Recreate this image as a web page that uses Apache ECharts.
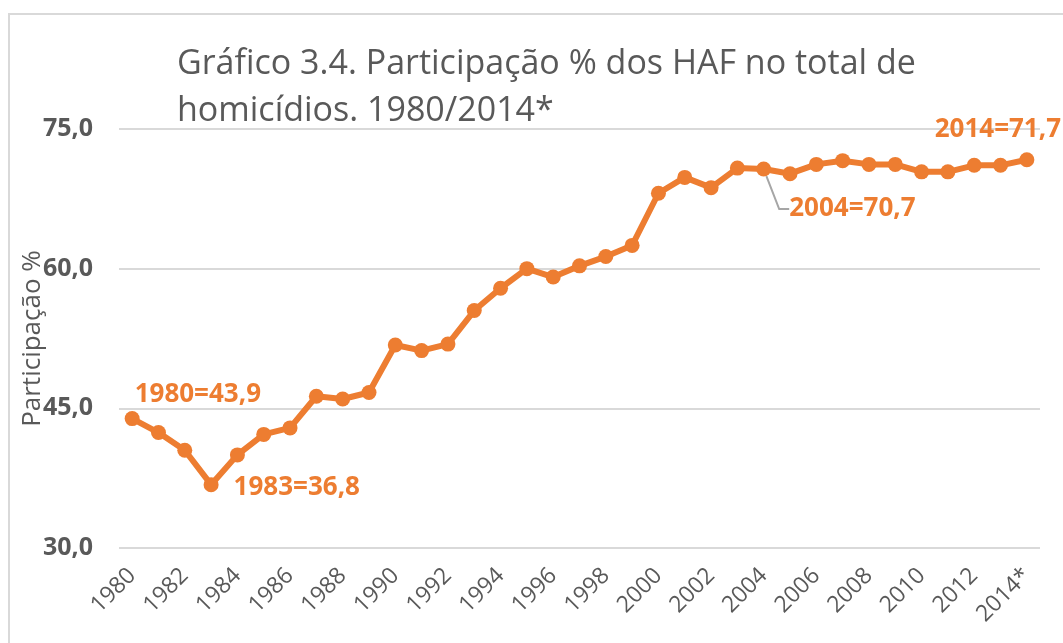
<!DOCTYPE html>
<html>
<head>
<meta charset="utf-8">
<script src="https://cdn.jsdelivr.net/npm/echarts@6/dist/echarts.min.js"></script>
<style>
  html, body { margin: 0; padding: 0; background: #fff; }
  #chart { width: 1063px; height: 643px; }
</style>
</head>
<body>
<div id="chart"></div>
<script>
var years = ['1980','1981','1982','1983','1984','1985','1986','1987','1988','1989',
	'1990','1991','1992','1993','1994','1995','1996','1997','1998','1999',
	'2000','2001','2002','2003','2004','2005','2006','2007','2008','2009',
	'2010','2011','2012','2013','2014*'];
var share = [43.9, 42.4, 40.5, 36.8, 40.0, 42.2, 42.9, 46.3, 46.0, 46.7,
	51.8, 51.2, 51.9, 55.5, 57.9, 60.0, 59.1, 60.3, 61.3, 62.5,
	68.1, 69.8, 68.7, 70.8, 70.7, 70.2, 71.2, 71.6, 71.2, 71.2,
	70.4, 70.4, 71.1, 71.1, 71.7];
// points that get a "year=value" label
var labelled = [0, 3, 24, 34];

var orange = '#ED7D31';
var grey = '#595959';

function fmt(v) {
	return v.toFixed(1).replace('.', ',');
}

var chart = echarts.init(document.getElementById('chart'));

// where each label sits: side of the point, then nudge
var labelPos = { 0: 'right', 3: 'right', 24: 'right', 34: 'top' };
var labelShift = {
	0: { dx: -10, dy: -24 },
	3: { dx: 10, dy: 3 },
	24: { dx: 13, dy: 40 },
	34: { dx: -29, dy: -5 }
};

var seriesData = share.map(function (v, i) {
	var item = { value: v };
	if (labelled.indexOf(i) >= 0) {
		item.label = {
			show: true,
			position: labelPos[i],
			distance: 5,
			color: orange,
			fontWeight: 'bold',
			fontSize: 26,
			fontFamily: 'Open Sans',
			formatter: function (p) {
				return years[p.dataIndex].replace('*', '') + '=' + fmt(p.value);
			}
		};
		item.labelLine = { show: i == 24, length2: 10, lineStyle: { color: '#a6a6a6', width: 2 } };
	}
	return item;
});

chart.setOption({
	animation: false,
	textStyle: { fontFamily: 'Open Sans' },
	graphic: [{
		type: 'rect',
		shape: { x: 9, y: 14, width: 1200, height: 800 },
		style: { fill: 'none', stroke: '#d9d9d9', lineWidth: 2 },
		silent: true,
		z: -10
	}],
	title: {
		text: 'Gráfico 3.4. Participação % dos HAF no total de\nhomicídios. 1980/2014*',
		left: 172,
		top: 36,
		textStyle: {
			fontFamily: 'Open Sans',
			fontWeight: 'normal',
			fontSize: 34,
			lineHeight: 47,
			color: grey
		}
	},
	grid: {
		left: 119,
		right: 23,
		top: 129,
		bottom: 95
	},
	xAxis: {
		type: 'category',
		data: years,
		boundaryGap: true,
		axisLine: { show: false },
		axisTick: { show: false },
		axisLabel: {
			interval: 1,
			rotate: 45,
			color: grey,
			fontSize: 23,
			margin: 24
		}
	},
	yAxis: {
		type: 'value',
		min: 30,
		max: 75,
		interval: 15,
		name: 'Participação %',
		nameLocation: 'middle',
		nameGap: 73,
		nameMoveOverlap: false,
		nameTextStyle: { color: grey, fontSize: 26 },
		axisLine: { show: false },
		axisTick: { show: false },
		axisLabel: {
			color: grey,
			fontWeight: 'bold',
			fontSize: 25,
			margin: 26,
			formatter: function (v) { return fmt(v); }
		},
		splitLine: { lineStyle: { color: '#d9d9d9', width: 2 } }
	},
	series: [{
		type: 'line',
		data: seriesData,
		symbol: 'circle',
		symbolSize: 15,
		lineStyle: { color: orange, width: 6 },
		itemStyle: { color: orange },
		labelLayout: function (params) {
			return labelShift[params.dataIndex];
		},
		label: { show: false }
	}]
});
</script>
</body>
</html>
